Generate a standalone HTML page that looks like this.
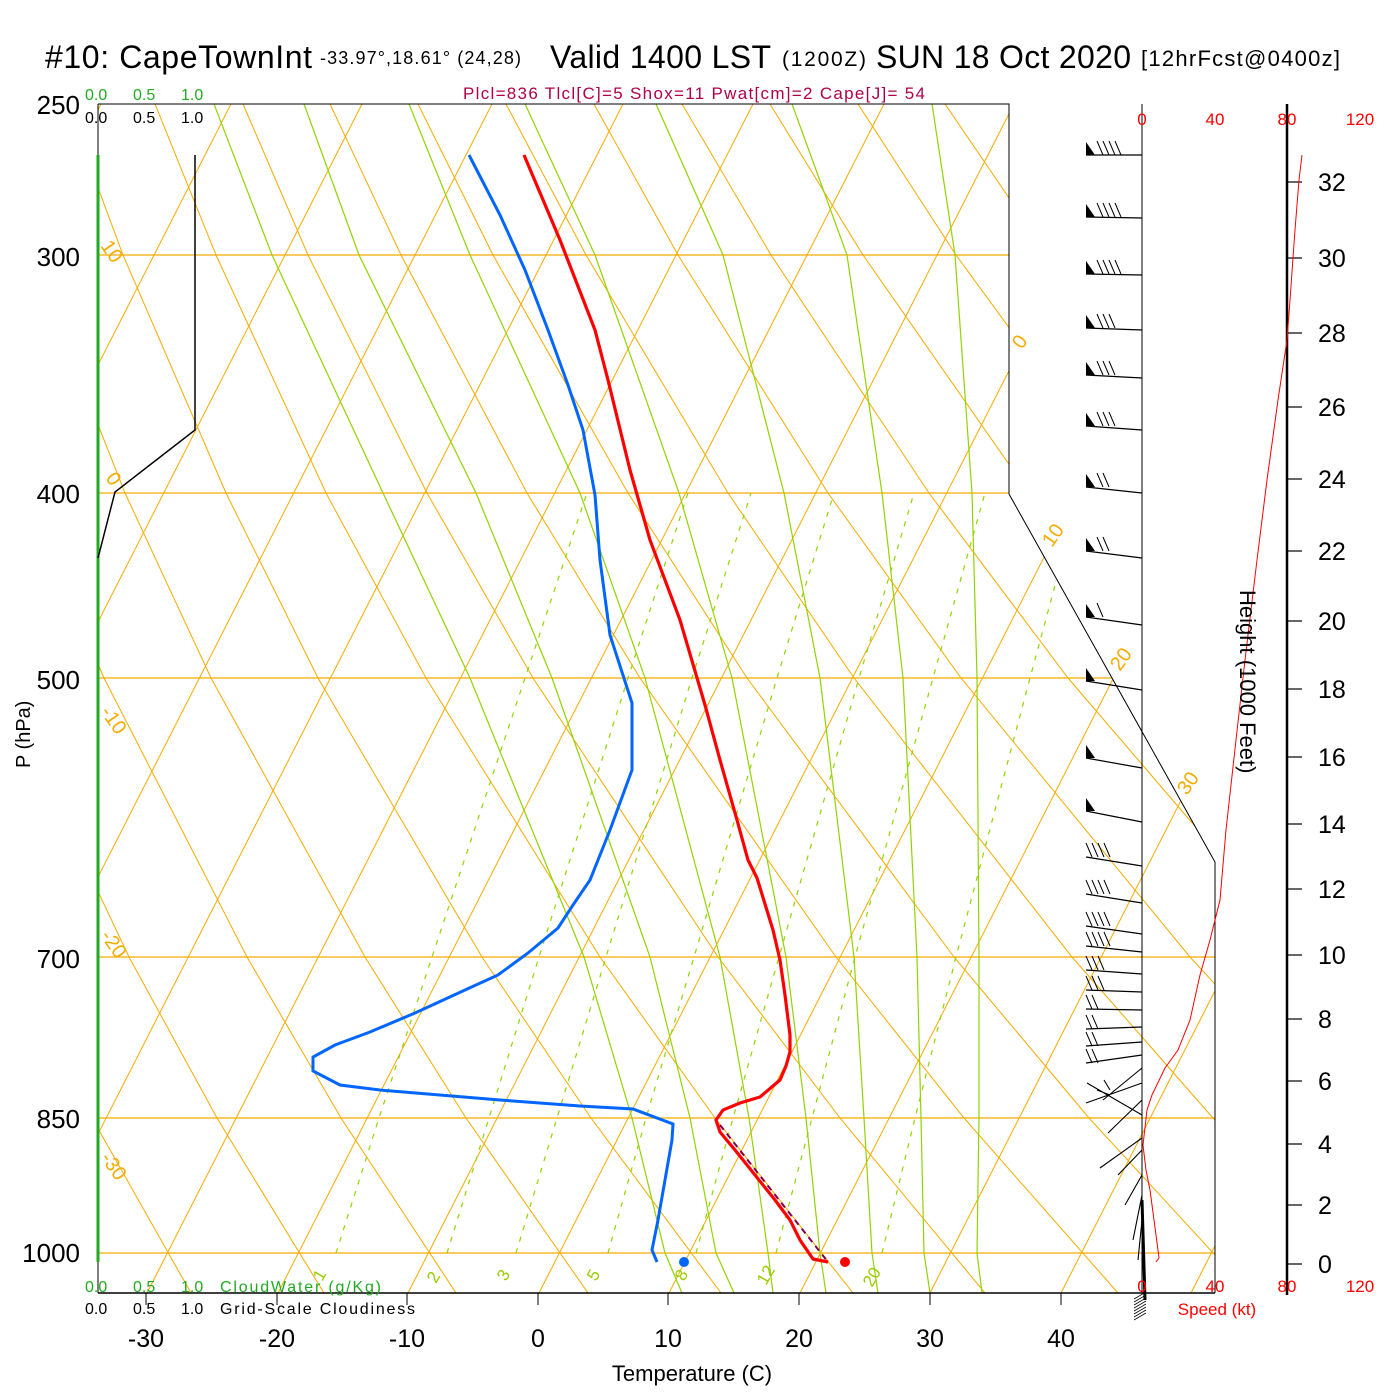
<!DOCTYPE html>
<html><head><meta charset="utf-8">
<style>
html,body{margin:0;padding:0;background:#fff;}
svg{display:block;font-family:"Liberation Sans",Arial,sans-serif;}
</style></head>
<body>
<svg width="1400" height="1400" viewBox="0 0 1400 1400" xmlns="http://www.w3.org/2000/svg">
<defs>
<clipPath id="cp"><polygon points="98,104 1009,104 1009,494 1215,862 1215,1293 98,1293"/></clipPath>
</defs>
<rect width="1400" height="1400" fill="#fff"/>
<g clip-path="url(#cp)" fill="none">
<g stroke="#f5ab00" stroke-width="1.2">
<line x1="98" y1="255" x2="1215" y2="255"/><line x1="98" y1="493" x2="1215" y2="493"/>
<line x1="98" y1="678" x2="1215" y2="678"/><line x1="98" y1="957" x2="1215" y2="957"/>
<line x1="98" y1="1118" x2="1215" y2="1118"/><line x1="98" y1="1253" x2="1215" y2="1253"/>
</g>
<g stroke="#f5ab00" stroke-width="1">
<line x1="-505" y1="1293" x2="101" y2="104"/><line x1="-375" y1="1293" x2="231" y2="104"/>
<line x1="-244" y1="1293" x2="362" y2="104"/><line x1="-114" y1="1293" x2="492" y2="104"/>
<line x1="17" y1="1293" x2="623" y2="104"/><line x1="147" y1="1293" x2="753" y2="104"/>
<line x1="278" y1="1293" x2="884" y2="104"/><line x1="408" y1="1293" x2="1014" y2="104"/>
<line x1="539" y1="1293" x2="1145" y2="104"/><line x1="669" y1="1293" x2="1275" y2="104"/>
<line x1="800" y1="1293" x2="1406" y2="104"/><line x1="930" y1="1293" x2="1536" y2="104"/>
<line x1="1061" y1="1293" x2="1667" y2="104"/><line x1="1191" y1="1293" x2="1797" y2="104"/>
</g>
<g stroke="#f5ab00" stroke-width="1">
<polyline points="191,1293 92,1118 11,957 -110,678"/>
<polyline points="324,1293 217,1118 129,957 -3,678 -76,493"/>
<polyline points="456,1293 341,1118 247,957 104,678 25,493 -62,255"/>
<polyline points="588,1293 466,1118 365,957 211,678 125,493 31,255 -21,104"/>
<polyline points="721,1293 591,1118 482,957 318,678 226,493 123,255 67,104"/>
<polyline points="853,1293 715,1118 600,957 426,678 326,493 216,255 155,104"/>
<polyline points="985,1293 840,1118 718,957 533,678 427,493 308,255 243,104"/>
<polyline points="1118,1293 964,1118 836,957 640,678 527,493 401,255 330,104"/>
<polyline points="1250,1293 1089,1118 954,957 747,678 628,493 493,255 418,104"/>
<polyline points="1382,1293 1213,1118 1072,957 854,678 728,493 586,255 506,104"/>
<polyline points="1515,1293 1338,1118 1190,957 961,678 828,493 678,255 594,104"/>
<polyline points="1647,1293 1462,1118 1307,957 1068,678 929,493 771,255 682,104"/>
<polyline points="1779,1293 1587,1118 1425,957 1175,678 1029,493 863,255 770,104"/>
<polyline points="1912,1293 1712,1118 1543,957 1282,678 1130,493 956,255 858,104"/>
<polyline points="2044,1293 1836,1118 1661,957 1389,678 1230,493 1048,255 945,104"/>
<polyline points="2176,1293 1961,1118 1779,957 1496,678 1331,493 1141,255 1033,104"/>
</g>
<g stroke="#92d400" stroke-width="1.2">
<polyline points="982,1293 977,1253 979,1118 979,957 977,678 972,493 955,255 932,104"/>
<polyline points="930,1293 924,1253 921,1118 917,957 903,678 882,493 847,255 792,104"/>
<polyline points="878,1293 872,1253 864,1118 854,957 820,678 784,493 723,255 656,104"/>
<polyline points="826,1293 820,1253 806,1118 786,957 732,678 679,493 595,255 525,104"/>
<polyline points="773,1293 768,1253 749,1118 720,957 645,678 580,493 470,255 409,104"/>
<polyline points="734,1293 716,1253 690,1118 650,957 552,678 476,493 359,255 304,104"/>
<polyline points="682,1293 665,1253 632,1118 584,957 470,678 383,493 272,255 214,104"/>
</g>
<g stroke="#92d400" stroke-width="1.2" stroke-dasharray="5,7">
<polyline points="336,1253 379,1118 432,957 525,678 587,493"/>
<polyline points="447,1253 489,1118 539,957 628,678 688,493"/>
<polyline points="516,1253 557,1118 606,957 692,678 751,493"/>
<polyline points="608,1253 646,1118 694,957 777,678 834,493"/>
<polyline points="696,1253 733,1118 779,957 859,678 914,493"/>
<polyline points="776,1253 812,1118 855,957 933,678 985,493"/>
<polyline points="882,1253 915,1118 956,957 1030,678 1080,493"/>
</g>
</g>
<polyline points="98,104 1009,104 1009,494 1215,862 1215,1293" fill="none" stroke="#000" stroke-width="1"/>
<line x1="98" y1="1293" x2="1215" y2="1293" stroke="#000" stroke-width="1.5"/>
<line x1="98" y1="104" x2="98" y2="1293" stroke="#000" stroke-width="1"/>
<line x1="98" y1="155" x2="98" y2="1262" stroke="#22aa22" stroke-width="3"/>
<g stroke="#000" stroke-width="1">
<line x1="146" y1="1293" x2="146" y2="1305"/><line x1="277" y1="1293" x2="277" y2="1305"/>
<line x1="407" y1="1293" x2="407" y2="1305"/><line x1="538" y1="1293" x2="538" y2="1305"/>
<line x1="668" y1="1293" x2="668" y2="1305"/><line x1="799" y1="1293" x2="799" y2="1305"/>
<line x1="930" y1="1293" x2="930" y2="1305"/><line x1="1061" y1="1293" x2="1061" y2="1305"/>
</g>
<polyline points="195,155 195,430 115,492 98,558" fill="none" stroke="#000" stroke-width="1.5"/>
<g fill="none">
<polyline points="720,1125 828,1262" stroke="#800050" stroke-width="2" stroke-dasharray="6,5"/>
<polyline points="524,155 560,240 595,330 608,380 630,470 650,540 680,620 705,705 720,760 737,820 748,860 757,878 773,930 780,960 785,995 790,1035 790,1052 786,1066 780,1080 760,1097 740,1103 723,1110 716,1120 720,1132 735,1150 755,1175 775,1200 790,1220 800,1240 813,1259 828,1262" stroke="#ff0000" stroke-width="3.2"/>
<polyline points="469,155 500,215 525,270 548,330 568,385 583,430 595,495 600,560 610,635 632,703 632,770 610,830 590,880 573,905 558,928 528,953 498,975 465,990 415,1013 370,1032 335,1045 313,1057 313,1071 340,1085 380,1090 500,1100 580,1106 633,1109 673,1124 672,1140 665,1180 658,1220 652,1250 657,1262" stroke="#0066ff" stroke-width="3"/>
</g>
<circle cx="684" cy="1262" r="5" fill="#0066ff"/>
<circle cx="845" cy="1262" r="5" fill="#ff0000"/>
<line x1="1142" y1="104" x2="1142" y2="1293" stroke="#000" stroke-width="1"/>
<line x1="1287" y1="104" x2="1287" y2="1295" stroke="#000" stroke-width="2.5"/>
<g stroke="#000" stroke-width="1.2">
<line x1="1287" y1="182" x2="1302" y2="182"/><line x1="1287" y1="258" x2="1302" y2="258"/>
<line x1="1287" y1="333" x2="1302" y2="333"/><line x1="1287" y1="407" x2="1302" y2="407"/>
<line x1="1287" y1="479" x2="1302" y2="479"/><line x1="1287" y1="551" x2="1302" y2="551"/>
<line x1="1287" y1="621" x2="1302" y2="621"/><line x1="1287" y1="689" x2="1302" y2="689"/>
<line x1="1287" y1="757" x2="1302" y2="757"/><line x1="1287" y1="824" x2="1302" y2="824"/>
<line x1="1287" y1="889" x2="1302" y2="889"/><line x1="1287" y1="955" x2="1302" y2="955"/>
<line x1="1287" y1="1019" x2="1302" y2="1019"/><line x1="1287" y1="1081" x2="1302" y2="1081"/>
<line x1="1287" y1="1144" x2="1302" y2="1144"/><line x1="1287" y1="1205" x2="1302" y2="1205"/>
<line x1="1287" y1="1264" x2="1302" y2="1264"/>
</g>
<polyline fill="none" stroke="#ff0000" stroke-width="1" points="1302,155 1299,180 1295,230 1290,300 1287,340 1278,400 1267,480 1257,560 1245,660 1236,740 1226,830 1220,900 1210,940 1200,975 1190,1020 1178,1050 1165,1068 1152,1095 1147,1110 1143,1145 1146,1170 1150,1190 1154,1220 1158,1250 1159,1258 1156,1262"/>
<g stroke="#000" stroke-width="1.2" fill="none">
<path d="M1142 155L1086 155 M1142 218L1086 217 M1142 275L1086 274 M1142 330L1086 328 M1142 378L1086 375 M1142 430L1086 426 M1142 493L1086 487 M1142 558L1086 551 M1142 625L1086 617 M1142 690L1086 681 M1142 768L1086 758 M1142 822L1086 811 M1142 866L1086 857 M1142 903L1086 894 M1142 934L1086 926 M1142 952L1086 946 M1142 974L1086 970 M1142 992L1086 990 M1142 1010L1086 1009 M1142 1027L1086 1029 M1142 1042L1086 1046 M1142 1055L1086 1063"/>
<path stroke-width="1" d="M1103 155L1097 141 M1109 155L1103 141 M1115 155L1109 141 M1121 155L1115 141
M1103 217L1097 203 M1109 217L1103 203 M1115 217L1109 203 M1121 217L1115 203
M1103 274L1097 260 M1109 274L1103 260 M1115 274L1109 260 M1121 274L1115 260
M1103 328L1097 314 M1109 328L1103 314 M1115 328L1109 314
M1103 375L1097 361 M1109 375L1103 361 M1115 375L1109 361
M1103 426L1097 412 M1109 426L1103 412 M1115 426L1109 412
M1103 487L1097 473 M1109 487L1103 473
M1103 551L1097 537 M1109 551L1103 537
M1103 617L1097 603
M1092 857L1086 843 M1098 857L1092 843 M1104 857L1098 843 M1110 857L1104 843
M1092 894L1086 880 M1098 894L1092 880 M1104 894L1098 880 M1110 894L1104 880
M1092 926L1086 912 M1098 926L1092 912 M1104 926L1098 912 M1110 926L1104 912
M1092 946L1086 932 M1098 946L1092 932 M1104 946L1098 932 M1110 946L1104 932
M1092 970L1086 956 M1098 970L1092 956 M1104 970L1098 956
M1092 990L1086 976 M1098 990L1092 976 M1104 990L1098 976
M1092 1009L1086 995 M1098 1009L1092 995
M1092 1029L1086 1015 M1098 1029L1092 1015
M1092 1046L1086 1032 M1098 1046L1092 1032
M1092 1063L1086 1049 M1098 1063L1092 1049"/>
<path stroke-width="1.1" d="M1142 1068L1103 1100 M1142 1083L1086 1103 M1142 1100L1108 1133 M1142 1115L1087 1083 M1142 1138L1100 1168 M1142 1150L1118 1175 M1142 1175L1125 1205 M1142 1195L1133 1240 M1142 1220L1138 1260 M1104 1080L1110 1090 M1097 1090L1110 1095"/>
<path stroke-width="3" d="M1142 1200L1145 1300"/>
<path stroke-width="0.8" d="M1146 1292L1134 1299 M1146 1295L1134 1302 M1146 1298L1134 1305 M1146 1301L1134 1308 M1146 1304L1134 1311 M1146 1307L1134 1314 M1146 1310L1134 1317 M1146 1313L1134 1320"/>
</g>
<g fill="#000">
<polygon points="1086,155 1086,142 1095,155"/><polygon points="1086,217 1086,204 1095,217"/>
<polygon points="1086,274 1086,261 1095,274"/><polygon points="1086,328 1086,315 1095,328"/>
<polygon points="1086,375 1086,362 1095,375"/><polygon points="1086,426 1086,413 1095,426"/>
<polygon points="1086,487 1086,474 1095,487"/><polygon points="1086,551 1086,538 1095,551"/>
<polygon points="1086,617 1086,604 1095,617"/><polygon points="1086,681 1086,668 1095,681"/>
<polygon points="1086,758 1086,745 1095,758"/><polygon points="1086,811 1086,798 1095,811"/>
</g>
<g font-size="25" fill="#000">
<text x="1318" y="191">32</text><text x="1318" y="267">30</text><text x="1318" y="342">28</text>
<text x="1318" y="416">26</text><text x="1318" y="488">24</text><text x="1318" y="560">22</text>
<text x="1318" y="630">20</text><text x="1318" y="698">18</text><text x="1318" y="766">16</text>
<text x="1318" y="833">14</text><text x="1318" y="898">12</text><text x="1318" y="964">10</text>
<text x="1318" y="1028">8</text><text x="1318" y="1090">6</text><text x="1318" y="1153">4</text>
<text x="1318" y="1214">2</text><text x="1318" y="1273">0</text>
</g>
<g font-size="17" fill="#ff0000" text-anchor="middle">
<text x="1142" y="125">0</text><text x="1215" y="125">40</text><text x="1287" y="125">80</text><text x="1360" y="125">120</text>
<text x="1142" y="1292">0</text><text x="1215" y="1292">40</text><text x="1287" y="1292">80</text><text x="1360" y="1292">120</text>
<text x="1217" y="1315">Speed (kt)</text>
</g>
<text x="0" y="0" font-size="22" transform="translate(1240,590) rotate(90)">Height (1000 Feet)</text>
<g font-size="26" fill="#000" text-anchor="end">
<text x="80" y="114">250</text><text x="80" y="266">300</text><text x="80" y="503">400</text>
<text x="80" y="689">500</text><text x="80" y="968">700</text><text x="80" y="1128">850</text>
<text x="80" y="1262">1000</text>
</g>
<text font-size="20" transform="translate(30,768) rotate(-90)">P (hPa)</text>
<g font-size="25" fill="#000" text-anchor="middle">
<text x="146" y="1347">-30</text><text x="277" y="1347">-20</text><text x="407" y="1347">-10</text>
<text x="538" y="1347">0</text><text x="668" y="1347">10</text><text x="799" y="1347">20</text>
<text x="930" y="1347">30</text><text x="1061" y="1347">40</text>
</g>
<text x="692" y="1381" font-size="22" text-anchor="middle">Temperature (C)</text>
<g font-size="16">
<text x="85" y="100" fill="#22aa22">0.0</text><text x="133" y="100" fill="#22aa22">0.5</text><text x="181" y="100" fill="#22aa22">1.0</text>
<text x="85" y="123" fill="#000">0.0</text><text x="133" y="123" fill="#000">0.5</text><text x="181" y="123" fill="#000">1.0</text>
<text x="85" y="1292" fill="#22aa22">0.0</text><text x="133" y="1292" fill="#22aa22">0.5</text><text x="181" y="1292" fill="#22aa22">1.0</text>
<text x="220" y="1292" fill="#22aa22" textLength="161">CloudWater (g/Kg)</text>
<text x="85" y="1314" fill="#000">0.0</text><text x="133" y="1314" fill="#000">0.5</text><text x="181" y="1314" fill="#000">1.0</text>
<text x="220" y="1314" fill="#000" textLength="195">Grid-Scale Cloudiness</text>
</g>
<text x="463" y="99" font-size="17" fill="#b0004a" textLength="462">Plcl=836 Tlcl[C]=5 Shox=11 Pwat[cm]=2 Cape[J]= 54</text>
<text x="45" y="68" font-size="32" textLength="267">#10: CapeTownInt</text>
<text x="320" y="64" font-size="18" textLength="201">-33.97°,18.61° (24,28)</text>
<text x="550" y="68" font-size="32" textLength="221">Valid 1400 LST</text>
<text x="782" y="66" font-size="21" textLength="84">(1200Z)</text>
<text x="876" y="68" font-size="32" textLength="255">SUN 18 Oct 2020</text>
<text x="1141" y="66" font-size="22" textLength="199">[12hrFcst@0400z]</text>
<g font-size="20" fill="#f5ab00">
<text transform="translate(100,246) rotate(55)">10</text>
<text transform="translate(105,478) rotate(55)">0</text>
<text transform="translate(100,712) rotate(55)">-10</text>
<text transform="translate(100,936) rotate(55)">-20</text>
<text transform="translate(100,1158) rotate(55)">-30</text>
<text transform="translate(1022,350) rotate(-55)">0</text>
<text transform="translate(1052,548) rotate(-55)">10</text>
<text transform="translate(1120,672) rotate(-55)">20</text>
<text transform="translate(1187,796) rotate(-55)">30</text>
</g>
<g font-size="17" fill="#99cc00">
<text transform="translate(322,1282) rotate(-60)">1</text>
<text transform="translate(436,1284) rotate(-60)">2</text>
<text transform="translate(506,1282) rotate(-60)">3</text>
<text transform="translate(596,1282) rotate(-60)">5</text>
<text transform="translate(684,1282) rotate(-60)">8</text>
<text transform="translate(766,1286) rotate(-60)">12</text>
<text transform="translate(872,1288) rotate(-60)">20</text>
</g>
</svg>
</body></html>
